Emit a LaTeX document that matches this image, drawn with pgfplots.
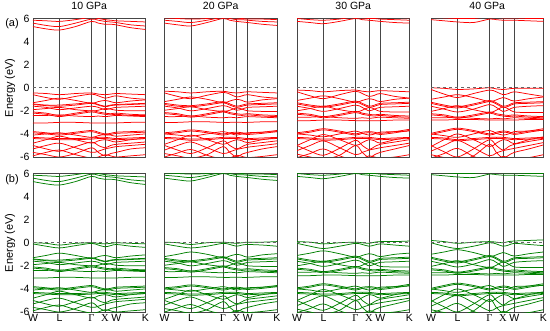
\documentclass[border=0pt]{standalone}
\usepackage{pgfplots}
\usepackage{pgfplotstable}
\pgfplotsset{compat=1.18}
\usepackage{fontspec}
\setmainfont{Liberation Sans}
\newfontfamily\serif{Liberation Serif}

% band-per-row tables (k-path: W L Gamma X W K), transposed below
\pgfplotstableread{
b p0 p1 p2 p3 p4 p5 p6 p7 p8 p9 p10
k 0 0.117 0.235 0.378 0.52 0.58 0.64 0.69 0.74 0.87 1.0
c1 5.3 5.1 5.0 5.3 5.75 5.6 5.5 5.5 5.45 5.2 5.05
c2 5.6 5.4 5.3 5.6 5.95 5.85 5.75 5.7 5.65 5.45 5.35
c3 5.85 5.8 5.75 5.9 6.1 6.0 5.9 5.85 5.8 5.75 5.7
r1 -0.45 -0.5 -0.6 -0.5 -0.45 -0.55 -0.6 -0.55 -0.5 -0.55 -0.6
r2 -0.6 -0.85 -1.0 -0.75 -0.55 -0.7 -0.9 -0.8 -0.7 -0.9 -1.0
g1 0.0 -0.05 -0.2 -0.05 0.0 -0.05 -0.1 -0.05 0.0 -0.05 -0.1
g2 -0.1 -0.3 -0.45 -0.25 -0.05 -0.2 -0.35 -0.25 -0.15 -0.3 -0.4
v1 -1.3 -1.1 -0.9 -1.1 -1.35 -1.2 -1.1 -1.2 -1.3 -1.15 -1.05
v2 -1.4 -1.5 -1.5 -1.4 -1.3 -1.45 -1.6 -1.5 -1.45 -1.4 -1.35
v3 -1.6 -1.7 -1.9 -1.75 -1.6 -1.7 -1.9 -1.8 -1.7 -1.65 -1.6
v4 -1.9 -1.8 -1.7 -1.9 -2.0 -1.95 -1.8 -1.85 -1.95 -2.0 -2.0
v5 -2.1 -2.2 -2.4 -2.2 -2.0 -2.1 -2.2 -2.25 -2.2 -2.3 -2.35
v6 -2.4 -2.4 -2.35 -2.45 -2.5 -2.45 -2.5 -2.45 -2.4 -2.45 -2.5
v7 -3.05 -3.05 -3.0 -3.0 -3.05 -3.05 -3.05 -3.05 -3.05 -3.0 -3.0
v8 -3.8 -3.9 -4.0 -3.85 -3.7 -3.85 -4.0 -3.95 -3.85 -3.8 -3.75
v9 -4.1 -4.0 -3.9 -4.1 -4.3 -4.15 -4.05 -4.1 -4.2 -4.1 -4.0
v10 -4.3 -4.35 -4.4 -4.4 -4.35 -4.3 -4.3 -4.35 -4.4 -4.35 -4.3
v11 -4.8 -4.5 -4.2 -4.5 -4.8 -4.6 -4.5 -4.6 -4.7 -4.5 -4.4
v12 -5.0 -5.3 -5.5 -5.1 -4.7 -5.0 -5.2 -5.0 -4.9 -4.8 -4.7
v13 -5.3 -5.0 -4.8 -5.2 -5.6 -5.5 -5.3 -5.2 -5.1 -5.0 -4.9
v14 -5.6 -5.8 -6.0 -5.7 -5.2 -5.6 -5.9 -5.7 -5.6 -5.3 -5.2
v15 -5.9 -5.6 -5.4 -5.8 -6.1 -6.0 -5.8 -5.9 -6.0 -5.9 -5.8
v16 -1.45 -1.55 -1.6 -1.5 -1.35 -1.5 -1.65 -1.55 -1.5 -1.45 -1.4
v17 -2.2 -2.3 -2.5 -2.3 -2.1 -2.2 -2.3 -2.35 -2.3 -2.4 -2.4
v18 -3.9 -4.0 -4.1 -3.95 -3.8 -3.95 -4.1 -4.05 -3.95 -3.9 -3.85
v19 -4.4 -4.45 -4.5 -4.5 -4.45 -4.4 -4.4 -4.45 -4.5 -4.45 -4.4
}\Rten

\pgfplotstableread{
b p0 p1 p2 p3 p4 p5 p6 p7 p8 p9 p10
k 0 0.117 0.235 0.378 0.52 0.58 0.64 0.69 0.74 0.87 1.0
c1 5.6 5.45 5.35 5.65 6.0 5.85 5.75 5.7 5.65 5.5 5.4
c2 5.85 5.75 5.65 5.85 6.1 6.0 5.9 5.9 5.85 5.75 5.7
c3 6.05 6.0 5.95 6.0 6.2 6.1 6.05 6.0 5.95 5.95 5.9
r1 -0.3 -0.35 -0.45 -0.35 -0.3 -0.4 -0.45 -0.4 -0.35 -0.4 -0.45
r2 -0.45 -0.75 -0.95 -0.65 -0.4 -0.55 -0.8 -0.7 -0.6 -0.8 -0.9
g1 0.05 0.0 -0.15 0.0 0.05 0.0 -0.05 0.0 0.05 0.05 0.1
g2 -0.1 -0.3 -0.45 -0.3 -0.05 -0.15 -0.3 -0.2 -0.15 -0.2 -0.3
v1 -1.2 -1.0 -0.8 -1.0 -1.3 -1.15 -1.0 -1.1 -1.25 -1.05 -0.95
v2 -1.35 -1.5 -1.55 -1.4 -1.2 -1.4 -1.6 -1.5 -1.4 -1.35 -1.3
v3 -1.6 -1.75 -2.0 -1.8 -1.55 -1.7 -1.95 -1.85 -1.7 -1.65 -1.6
v4 -1.95 -1.8 -1.65 -1.9 -2.05 -1.95 -1.75 -1.85 -2.0 -2.05 -2.05
v5 -2.15 -2.25 -2.45 -2.25 -2.0 -2.15 -2.25 -2.3 -2.25 -2.35 -2.4
v6 -2.5 -2.5 -2.45 -2.55 -2.6 -2.55 -2.6 -2.55 -2.5 -2.55 -2.6
v7 -3.0 -3.0 -2.95 -2.95 -3.0 -3.0 -3.0 -3.0 -3.0 -2.95 -2.95
v8 -3.9 -3.8 -3.65 -3.8 -4.0 -3.9 -3.85 -3.9 -3.95 -3.85 -3.7
v9 -4.0 -4.1 -4.2 -4.0 -3.8 -3.95 -4.1 -4.0 -3.9 -3.85 -3.8
v10 -4.3 -4.35 -4.45 -4.4 -4.3 -4.3 -4.3 -4.35 -4.4 -4.35 -4.3
v11 -4.9 -4.5 -4.1 -4.5 -4.9 -4.7 -4.5 -4.6 -4.75 -4.5 -4.35
v12 -5.0 -5.4 -5.7 -5.2 -4.6 -5.0 -5.3 -5.1 -4.9 -4.75 -4.6
v13 -5.4 -5.0 -4.7 -5.2 -5.7 -5.55 -5.35 -5.25 -5.15 -5.0 -4.85
v14 -5.7 -5.9 -6.1 -5.8 -5.1 -5.6 -6.0 -5.75 -5.6 -5.3 -5.1
v15 -6.0 -5.65 -5.35 -5.85 -6.2 -6.1 -5.85 -5.95 -6.05 -5.95 -5.8
v16 -1.45 -1.6 -1.65 -1.5 -1.3 -1.5 -1.7 -1.6 -1.5 -1.45 -1.4
v17 -2.25 -2.35 -2.55 -2.35 -2.1 -2.25 -2.35 -2.4 -2.35 -2.45 -2.5
v18 -4.0 -3.9 -3.75 -3.9 -4.1 -4.0 -3.95 -4.0 -4.05 -3.95 -3.8
v19 -4.4 -4.45 -4.55 -4.5 -4.4 -4.4 -4.4 -4.45 -4.5 -4.45 -4.4
}\Rtwenty

\pgfplotstableread{
b p0 p1 p2 p3 p4 p5 p6 p7 p8 p9 p10
k 0 0.117 0.235 0.378 0.52 0.58 0.64 0.69 0.74 0.87 1.0
c1 5.75 5.65 5.55 5.75 6.0 5.9 5.85 5.8 5.75 5.65 5.6
c2 6.0 5.9 5.85 5.95 6.15 6.05 6.0 6.0 5.95 5.9 5.85
c3 6.2 6.15 6.1 6.1 6.25 6.2 6.15 6.1 6.1 6.1 6.05
r1 -0.2 -0.25 -0.35 -0.25 -0.2 -0.3 -0.35 -0.3 -0.25 -0.3 -0.35
r2 -0.35 -0.7 -0.95 -0.6 -0.3 -0.5 -0.75 -0.65 -0.5 -0.75 -0.9
g1 0.1 0.05 -0.1 0.0 0.05 0.0 -0.05 0.05 0.1 0.1 0.15
g2 -0.05 -0.3 -0.5 -0.3 -0.05 -0.15 -0.3 -0.2 -0.1 -0.2 -0.3
v1 -1.1 -0.9 -0.7 -0.95 -1.25 -1.1 -0.95 -1.05 -1.2 -1.0 -0.9
v2 -1.3 -1.5 -1.6 -1.4 -1.15 -1.35 -1.6 -1.5 -1.35 -1.3 -1.25
v3 -1.6 -1.8 -2.05 -1.8 -1.5 -1.7 -2.0 -1.85 -1.7 -1.65 -1.6
v4 -2.0 -1.8 -1.6 -1.9 -2.1 -1.95 -1.7 -1.85 -2.05 -2.1 -2.1
v5 -2.2 -2.3 -2.5 -2.3 -2.05 -2.2 -2.3 -2.35 -2.3 -2.4 -2.45
v6 -2.55 -2.55 -2.5 -2.6 -2.65 -2.6 -2.65 -2.6 -2.55 -2.6 -2.65
v7 -2.85 -2.85 -2.8 -2.8 -2.85 -2.85 -2.85 -2.85 -2.85 -2.8 -2.8
v8 -3.9 -3.75 -3.55 -3.75 -4.0 -3.85 -3.8 -3.85 -3.95 -3.8 -3.6
v9 -4.0 -4.1 -4.25 -4.0 -3.75 -3.95 -4.1 -4.0 -3.85 -3.8 -3.75
v10 -4.3 -4.35 -4.45 -4.4 -4.3 -4.3 -4.3 -4.35 -4.4 -4.35 -4.3
v11 -5.0 -4.5 -4.05 -4.5 -5.0 -4.75 -4.5 -4.6 -4.8 -4.5 -4.3
v12 -5.0 -5.5 -5.85 -5.25 -4.55 -5.0 -5.35 -5.1 -4.9 -4.7 -4.5
v13 -5.45 -5.0 -4.6 -5.2 -5.8 -5.6 -5.4 -5.3 -5.2 -5.0 -4.8
v14 -5.75 -6.0 -6.2 -5.85 -5.0 -5.6 -6.05 -5.8 -5.6 -5.3 -5.0
v15 -6.05 -5.7 -5.3 -5.9 -6.3 -6.15 -5.9 -6.0 -6.1 -6.0 -5.8
v16 -1.4 -1.6 -1.7 -1.5 -1.25 -1.45 -1.7 -1.6 -1.45 -1.4 -1.35
v17 -2.3 -2.4 -2.6 -2.4 -2.15 -2.3 -2.4 -2.45 -2.4 -2.5 -2.55
v18 -4.0 -3.85 -3.65 -3.85 -4.1 -3.95 -3.9 -3.95 -4.05 -3.9 -3.7
v19 -4.4 -4.45 -4.55 -4.5 -4.4 -4.4 -4.4 -4.45 -4.5 -4.45 -4.4
}\Rthirty

\pgfplotstableread{
b p0 p1 p2 p3 p4 p5 p6 p7 p8 p9 p10
k 0 0.117 0.235 0.378 0.52 0.58 0.64 0.69 0.74 0.87 1.0
c1 5.9 5.8 5.7 5.65 5.95 5.9 5.85 5.85 5.85 5.8 5.75
c2 6.1 6.05 6.0 6.0 6.15 6.1 6.05 6.05 6.05 6.0 6.0
c3 6.3 6.25 6.2 6.2 6.3 6.3 6.25 6.2 6.2 6.2 6.2
r1 0.0 -0.05 -0.15 -0.1 0.0 -0.1 -0.15 -0.1 -0.05 -0.05 -0.05
r2 -0.15 -0.55 -0.85 -0.5 -0.2 -0.35 -0.6 -0.5 -0.35 -0.55 -0.75
g1 0.2 0.1 -0.05 0.05 0.1 0.05 0.0 0.1 0.15 0.2 0.25
g2 0.0 -0.3 -0.5 -0.3 0.0 -0.1 -0.3 -0.2 -0.05 -0.15 -0.25
v1 -1.0 -0.8 -0.6 -0.85 -1.2 -1.05 -0.85 -1.0 -1.15 -0.95 -0.8
v2 -1.25 -1.5 -1.65 -1.4 -1.1 -1.3 -1.6 -1.5 -1.3 -1.25 -1.2
v3 -1.6 -1.85 -2.1 -1.85 -1.45 -1.7 -2.05 -1.9 -1.7 -1.6 -1.55
v4 -2.05 -1.8 -1.55 -1.9 -2.15 -1.95 -1.65 -1.85 -2.1 -2.15 -2.15
v5 -2.25 -2.35 -2.55 -2.35 -2.1 -2.25 -2.35 -2.4 -2.35 -2.45 -2.5
v6 -2.6 -2.6 -2.55 -2.65 -2.7 -2.65 -2.7 -2.65 -2.6 -2.65 -2.7
v7 -2.8 -2.8 -2.75 -2.75 -2.8 -2.8 -2.8 -2.8 -2.8 -2.75 -2.75
v8 -3.95 -3.7 -3.5 -3.7 -4.0 -3.85 -3.75 -3.8 -3.95 -3.75 -3.55
v9 -4.0 -4.15 -4.3 -4.0 -3.7 -3.95 -4.1 -4.0 -3.8 -3.75 -3.7
v10 -4.3 -4.35 -4.5 -4.4 -4.3 -4.3 -4.3 -4.35 -4.4 -4.35 -4.3
v11 -5.1 -4.5 -4.0 -4.5 -5.1 -4.8 -4.5 -4.6 -4.85 -4.5 -4.25
v12 -5.0 -5.55 -6.0 -5.3 -4.5 -5.0 -5.4 -5.1 -4.9 -4.65 -4.45
v13 -5.5 -5.0 -4.55 -5.2 -5.9 -5.65 -5.45 -5.35 -5.25 -5.0 -4.75
v14 -5.8 -6.05 -6.3 -5.9 -4.9 -5.6 -6.1 -5.85 -5.6 -5.3 -4.95
v15 -6.1 -5.7 -5.25 -5.95 -6.4 -6.2 -5.95 -6.05 -6.15 -6.05 -5.8
v16 -1.35 -1.6 -1.75 -1.5 -1.2 -1.4 -1.7 -1.6 -1.4 -1.35 -1.3
v17 -2.35 -2.45 -2.65 -2.45 -2.2 -2.35 -2.45 -2.5 -2.45 -2.55 -2.6
v18 -4.05 -3.8 -3.6 -3.8 -4.1 -3.95 -3.85 -3.9 -4.05 -3.85 -3.65
v19 -4.4 -4.45 -4.6 -4.5 -4.4 -4.4 -4.4 -4.45 -4.5 -4.45 -4.4
}\Rforty

\pgfplotstabletranspose[colnames from=b]{\Tten}{\Rten}
\pgfplotstabletranspose[colnames from=b]{\Ttwenty}{\Rtwenty}
\pgfplotstabletranspose[colnames from=b]{\Tthirty}{\Rthirty}
\pgfplotstabletranspose[colnames from=b]{\Tforty}{\Rforty}

\definecolor{bandred}{RGB}{255,0,0}
\definecolor{bandgreen}{RGB}{0,128,0}
\definecolor{frame}{RGB}{70,70,70}

\pgfplotsset{
  bandax/.style={
    scale only axis, width=112.5pt, height=138.5pt,
    xmin=0, xmax=1, ymin=-6, ymax=6,
    xtick={0,0.235,0.52,0.64,0.74,1},
    ytick={-6,-4,-2,0,2,4,6},
    xmajorgrids, major grid style={frame, line width=0.8pt},
    major tick length=0pt,
    axis line style={frame, line width=0.8pt},
    yticklabels={},
    tick label style={font=\fontsize{10.5}{11}\selectfont},
    /pgf/number format/assume math mode=true,
    title style={font=\fontsize{10.5}{12}\selectfont, yshift=-1pt},
    label style={font=\fontsize{11}{12}\selectfont},
    ylabel style={yshift=-2pt},
  },
  firstcol/.style={yticklabels={-6,-4,-2,0,2,4,6}, ylabel={Energy (eV)}},
  toprow/.style={xticklabels={}},
  botrow/.style={xticklabels={W,L,{\serif Γ},{\serif X},W,K}, xticklabel style={yshift=1pt}},
  bandR/.style={bandred, line width=0.75pt, smooth, tension=0.5, no marks},
  bandG/.style={bandgreen, line width=0.75pt, smooth, tension=0.5, no marks},
  zeroline/.style={black!60, dashed, line width=0.8pt, no marks},
}

\newcommand\bandplot[3]{%
  \pgfplotsinvokeforeach{c1,c2,c3,#31,#32,v1,v2,v3,v4,v5,v6,v7,v8,v9,v10,v11,v12,v13,v14,v15,v16,v17,v18,v19}{%
    \addplot[#2] table[x=k,y=##1]{#1};}%
  \addplot[zeroline] coordinates {(0,0) (1,0)};
}

\begin{document}
\begin{tikzpicture}
\useasboundingbox (0,0) rectangle (550pt,330pt);
% row (a)
\begin{axis}[bandax, firstcol, toprow, at={(33pt,173pt)}, anchor=south west, title={10 GPa}]
\bandplot{\Tten}{bandR}{r}
\end{axis}
\begin{axis}[bandax, toprow, at={(164.5pt,173pt)}, anchor=south west, title={20 GPa}]
\bandplot{\Ttwenty}{bandR}{r}
\end{axis}
\begin{axis}[bandax, toprow, at={(297pt,173pt)}, anchor=south west, title={30 GPa}]
\bandplot{\Tthirty}{bandR}{r}
\end{axis}
\begin{axis}[bandax, toprow, at={(431pt,173pt)}, anchor=south west, title={40 GPa}]
\bandplot{\Tforty}{bandR}{r}
\end{axis}
% row (b)
\begin{axis}[bandax, firstcol, botrow, at={(33pt,18pt)}, anchor=south west]
\bandplot{\Tten}{bandG}{g}
\end{axis}
\begin{axis}[bandax, botrow, at={(164.5pt,18pt)}, anchor=south west]
\bandplot{\Ttwenty}{bandG}{g}
\end{axis}
\begin{axis}[bandax, botrow, at={(297pt,18pt)}, anchor=south west]
\bandplot{\Tthirty}{bandG}{g}
\end{axis}
\begin{axis}[bandax, botrow, at={(431pt,18pt)}, anchor=south west]
\bandplot{\Tforty}{bandG}{g}
\end{axis}
\node[font=\fontsize{11}{12}\selectfont] at (12pt,306pt) {(a)};
\node[font=\fontsize{11}{12}\selectfont] at (12pt,150pt) {(b)};
\end{tikzpicture}
\end{document}
